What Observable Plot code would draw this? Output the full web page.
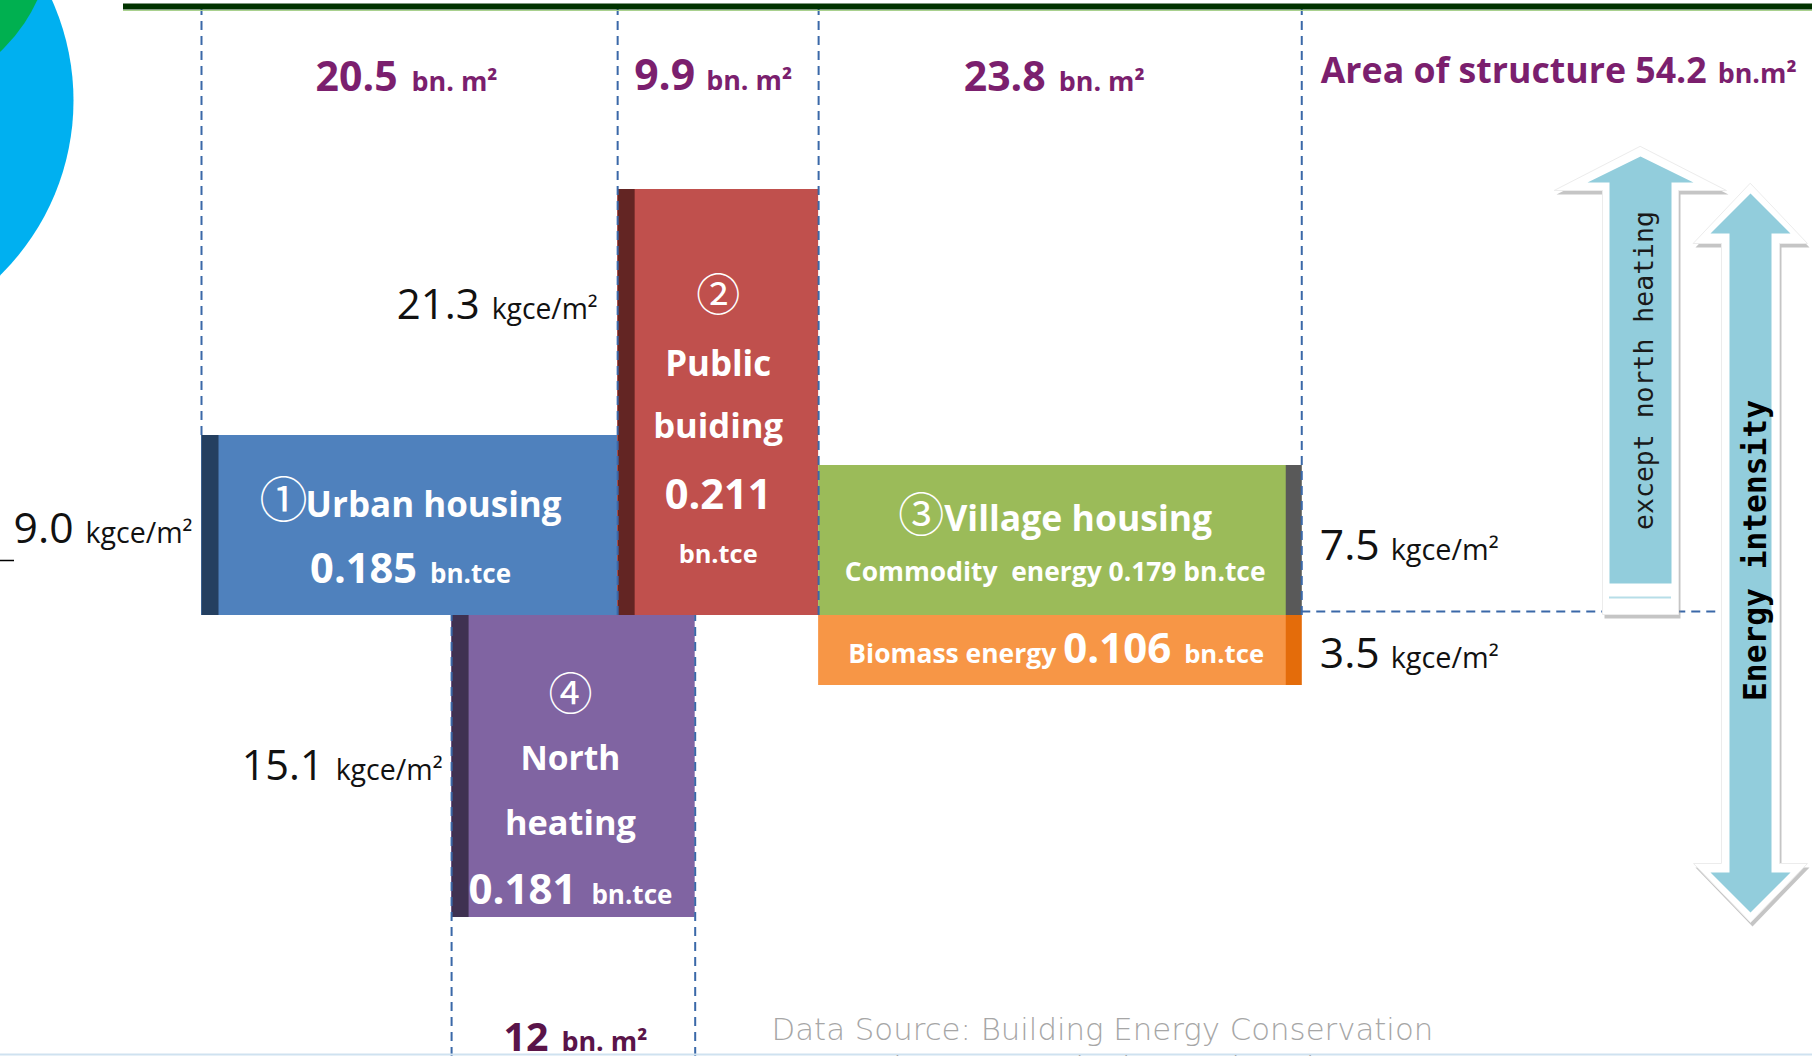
<!DOCTYPE html>
<html>
<head>
<meta charset="utf-8">
<script src="https://cdn.jsdelivr.net/npm/d3@7"></script>
<script src="https://cdn.jsdelivr.net/npm/@observablehq/plot@0.6"></script>
<style>
  html, body { margin: 0; padding: 0; background: #fff; }
  #chart svg { display: block; }
</style>
</head>
<body>
<div id="chart"></div>
<script>
// ---------------- data ----------------
const categories   = ["Urban housing", "Public", "Village housing", "North"];
const categories2  = ["", "buiding", "", "heating"];
const circled      = ["①", "②", "③", "④"];
const areas        = [20.5, 9.9, 23.8, 12];          // bn. m²
const intensities  = [9.0, 21.3, 7.5, 15.1];         // kgce/m²
const energies     = [0.185, 0.211, 0.179, 0.181];   // bn.tce
const biomassIntensity = 3.5;                        // kgce/m²
const biomassEnergy    = 0.106;                      // bn.tce
const northOffset  = 12.32;                          // start of the north-heating column on the area axis
const sourceLines  = ["Data Source: Building Energy Conservation", "Research Center, Tsinghua University"];

// ---------------- layout ----------------
const W = 1812, H = 1056;
const PX_X = 20.3, PX_Y = 20, ORIGIN_X = 201, BASE_Y = 615;
const xDomain = [-ORIGIN_X / PX_X, (W - ORIGIN_X) / PX_X];
const yDomain = [-(H - BASE_Y) / PX_Y, BASE_Y / PX_Y];
const xs = d3.scaleLinear(xDomain, [0, W]);
const ys = d3.scaleLinear(yDomain, [H, 0]);
const P = (px, py) => ({x: xs.invert(px), y: ys.invert(py)});

const total = areas[0] + areas[1] + areas[2];
const xPub = areas[0], xVil = areas[0] + areas[1];
const f1 = d3.format(".1f"), f3 = d3.format(".3f");

const bars = [
  {x1: 0, x2: areas[0], y1: 0, y2: intensities[0], fill: "#4F81BD", edge: "#243F60", side: "left"},
  {x1: xPub, x2: xVil, y1: 0, y2: intensities[1], fill: "#C0504D", edge: "#632523", side: "left"},
  {x1: xVil, x2: total, y1: 0, y2: intensities[2], fill: "#9BBB59", edge: "#595959", side: "right"},
  {x1: xVil, x2: total, y1: -biomassIntensity, y2: 0, fill: "#F79646", edge: "#E46C0A", side: "right"},
  {x1: northOffset, x2: northOffset + areas[3], y1: -intensities[3], y2: 0, fill: "#8064A2", edge: "#3F3151", side: "left"}
];
const cx = b => (xs(b.x1) + xs(b.x2)) / 2;

// ---------------- text composition ----------------
const STYLES = {
  bold: {fontFamily: "'Open Sans', Lato, sans-serif", fontWeight: "bold"},
  reg:  {fontFamily: "'Open Sans', Lato, sans-serif", fontWeight: "normal"},
  cjk:  {fontFamily: "'Noto Sans CJK SC', 'Noto Sans CJK JP', sans-serif", fontWeight: "normal"},
  src:  {fontFamily: "'DejaVu Sans', sans-serif", fontWeight: "200"},
  mono: {fontFamily: "'DejaVu Sans Mono', monospace", fontWeight: "normal"},
  monoB:{fontFamily: "'DejaVu Sans Mono', monospace", fontWeight: "bold"}
};
const ctx = document.createElement("canvas").getContext("2d");
function measure(text, size, s) {
  ctx.font = `${STYLES[s].fontWeight} ${size}px ${STYLES[s].fontFamily}`;
  return ctx.measureText(text).width;
}
function fit(text, w, s) { return 40 * w / measure(text, 40, s); }

const pieces = [];
function label(parts, ax, baseline, align, fill) {
  const ps = parts.map(p => {
    const size = p.size || fit(p.t, p.w, p.s);
    return {...p, size, width: measure(p.t, size, p.s)};
  });
  const tot = d3.sum(ps, p => p.width + (p.g || 0));
  let x = align === "middle" ? ax - tot / 2 : align === "end" ? ax - tot : ax;
  for (const p of ps) {
    x += p.g || 0;
    pieces.push({x: xs.invert(x), y: ys.invert(baseline), text: p.t, size: p.size, s: p.s, fill});
    x += p.width;
  }
}

const PURPLE = "#7B1F6E", PURPLE_DARK = "#5A1449", WHITE = "#ffffff", BLACK = "#111111";
const areaUnit = "bn. m²", kg = "kgce/m²", tce = "bn.tce";

// area labels (top)
label([{t: String(areas[0]), w: 82, s: "bold"}, {t: areaUnit, w: 86, s: "bold", g: 14}], cx(bars[0]) - 3, 90, "middle", PURPLE);
label([{t: String(areas[1]), w: 61, s: "bold"}, {t: areaUnit, w: 86, s: "bold", g: 11}], cx(bars[1]) - 5, 89, "middle", PURPLE);
label([{t: String(areas[2]), w: 82, s: "bold"}, {t: areaUnit, w: 86, s: "bold", g: 13}], cx(bars[2]) - 6, 90, "middle", PURPLE);
label([{t: `Area of structure ${f1(total)}`, w: 386, s: "bold"}, {t: "bn.m²", w: 79, s: "bold", g: 11}], xs(total) + 19, 82, "start", PURPLE);
label([{t: String(areas[3]), w: 45, s: "bold"}, {t: areaUnit, w: 86, s: "bold", g: 13}], cx(bars[4]) + 2, 1050, "middle", PURPLE_DARK);

// intensity labels
label([{t: f1(intensities[1]), w: 83, s: "reg"}, {t: kg, w: 106, s: "reg", g: 12}], xs(xPub) - 20, 318, "end", BLACK);
label([{t: f1(intensities[0]), w: 60, s: "reg"}, {t: kg, w: 107, s: "reg", g: 12}], xs(0) - 9, 542, "end", BLACK);
label([{t: f1(intensities[3]), w: 82, s: "reg"}, {t: kg, w: 107, s: "reg", g: 12}], xs(northOffset) - 9, 779, "end", BLACK);
label([{t: f1(intensities[2]), w: 60, s: "reg"}, {t: kg, w: 108, s: "reg", g: 11}], xs(total) + 18, 559, "start", BLACK);
label([{t: f1(biomassIntensity), w: 60, s: "reg"}, {t: kg, w: 108, s: "reg", g: 11}], xs(total) + 18, 667, "start", BLACK);

// urban housing
label([{t: circled[0], size: 48, s: "cjk"}, {t: categories[0], w: 256, s: "bold", g: -2}], cx(bars[0]) + 1, 516, "middle", WHITE);
label([{t: f3(energies[0]), w: 107, s: "bold"}, {t: tce, w: 81, s: "bold", g: 13}], cx(bars[0]) + 1, 582, "middle", WHITE);
// public building
label([{t: circled[1], size: 44, s: "cjk"}], cx(bars[1]), 310, "middle", WHITE);
label([{t: categories[1], w: 106, s: "bold"}], cx(bars[1]), 375, "middle", WHITE);
label([{t: categories2[1], w: 130, s: "bold"}], cx(bars[1]), 437, "middle", WHITE);
label([{t: f3(energies[1]), w: 107, s: "bold"}], cx(bars[1]), 508, "middle", WHITE);
label([{t: tce, w: 79, s: "bold"}], cx(bars[1]), 562, "middle", WHITE);
// village housing
label([{t: circled[2], size: 46, s: "cjk"}, {t: categories[2], w: 268, s: "bold", g: 0}], cx(bars[2]) - 5, 530, "middle", WHITE);
label([{t: `Commodity  energy ${f3(energies[2])} ${tce}`, w: 421, s: "bold"}], cx(bars[2]) - 5, 580, "middle", WHITE);
label([{t: "Biomass energy", w: 208, s: "bold"}, {t: f3(biomassEnergy), w: 108, s: "bold", g: 7}, {t: tce, w: 80, s: "bold", g: 13}], cx(bars[3]) - 4, 662, "middle", WHITE);
// north heating
label([{t: circled[3], size: 44, s: "cjk"}], cx(bars[4]) - 3, 709, "middle", WHITE);
label([{t: categories[3], w: 100, s: "bold"}], cx(bars[4]) - 3, 769, "middle", WHITE);
label([{t: categories2[3], w: 131, s: "bold"}], cx(bars[4]) - 3, 834, "middle", WHITE);
label([{t: f3(energies[3]), w: 108, s: "bold"}, {t: tce, w: 81, s: "bold", g: 15}], cx(bars[4]) - 3, 903, "middle", WHITE);

// data source
const srcSize = fit(sourceLines[0], 662, "src");
label([{t: sourceLines[0], size: srcSize, s: "src"}], 771, 1039, "start", "#A6A6A6");
label([{t: sourceLines[1], size: srcSize, s: "src"}], 771, 1077, "start", "#A6A6A6");

const textMarks = Object.keys(STYLES).map(s => Plot.text(pieces.filter(d => d.s === s), {
  x: "x", y: "y", text: "text", fontSize: d => d.size, fill: d => d.fill,
  textAnchor: "start", lineAnchor: "bottom", ...STYLES[s]
}));

// ---------------- arrows ----------------
function upArrow(c, tip, sh, head, shaft, bottom) {
  return [P(c, tip), P(c + head, sh), P(c + shaft, sh), P(c + shaft, bottom),
          P(c - shaft, bottom), P(c - shaft, sh), P(c - head, sh)];
}
function dblArrow(c, tip1, sh1, head, shaft, sh2, tip2) {
  return [P(c, tip1), P(c + head, sh1), P(c + shaft, sh1), P(c + shaft, sh2), P(c + head, sh2),
          P(c, tip2), P(c - head, sh2), P(c - shaft, sh2), P(c - shaft, sh1), P(c - head, sh1)];
}
const baselinePx = ys(0);
const a1Outer = upArrow(1640, 146, 190, 86, 38, baselinePx - 1);
const a1Inner = upArrow(1640, 156, 182, 53, 31, 583);
const a2Outer = dblArrow(1750, 183, 243, 57, 29, 863, 922);
const a2Inner = dblArrow(1750, 193, 233, 40, 21, 872, 912);
const poly = (pts, opts) => Plot.line(pts, {x: "x", y: "y", curve: "linear-closed", ...opts});
const ARROW = "#92CDDC";

const monoExcept = "except north heating", monoEnergy = "Energy intensity";
const arrowText = [
  Plot.text([{...P(1652, 370), t: monoExcept}], {x: "x", y: "y", text: "t", rotate: -90, textAnchor: "middle", lineAnchor: "bottom",
    fontSize: fit(monoExcept, 319, "mono"), fill: "#1a1a1a", ...STYLES.mono}),
  Plot.text([{...P(1765, 550), t: monoEnergy}], {x: "x", y: "y", text: "t", rotate: -90, textAnchor: "middle", lineAnchor: "bottom",
    fontSize: fit(monoEnergy, 301, "monoB"), fill: "#000", ...STYLES.monoB})
];

// ---------------- dashed guides ----------------
const dash = {stroke: "#3A68A8", strokeWidth: 2, strokeDasharray: "9,6"};
const vDashes = [
  {x: 0, y1: intensities[0], y2: yDomain[1]},
  {x: xPub, y1: 0, y2: yDomain[1]},
  {x: xVil, y1: 0, y2: yDomain[1]},
  {x: total, y1: 0, y2: yDomain[1]},
  {x: northOffset, y1: yDomain[0], y2: 0},
  {x: northOffset + areas[3], y1: yDomain[0], y2: 0}
];

const chart = Plot.plot({
  width: W, height: H, margin: 0,
  x: {domain: xDomain, axis: null},
  y: {domain: yDomain, axis: null},
  style: {background: "#fff", overflow: "hidden"},
  marks: [
    Plot.dot([P(-172, 100)], {x: "x", y: "y", r: 245, fill: "#00B0F0", stroke: "none"}),
    Plot.dot([P(-115, -70)], {x: "x", y: "y", r: 167, fill: "#00B050", stroke: "none"}),
    Plot.rect(bars, {x1: "x1", x2: "x2", y1: "y1", y2: "y2", fill: "fill"}),
    Plot.ruleX(bars.filter(b => b.side === "left"), {x: "x1", y1: "y1", y2: "y2", stroke: "edge", strokeWidth: 17, dx: 8.5}),
    Plot.ruleX(bars.filter(b => b.side === "right"), {x: "x2", y1: "y1", y2: "y2", stroke: "edge", strokeWidth: 16, dx: -8}),
    Plot.ruleX(vDashes, {x: "x", y1: "y1", y2: "y2", ...dash}),
    Plot.ruleY([{y: 0}], {y: "y", x1: total, x2: xs.invert(1718), dy: -4, ...dash}),
    Plot.ruleY([P(0, 6)], {y: "y", x1: xs.invert(123), x2: xDomain[1], stroke: "#013300", strokeWidth: 6}),
    Plot.ruleY([P(0, 10)], {y: "y", x1: xs.invert(123), x2: xDomain[1], stroke: "#a9d18e", strokeWidth: 1}),
    Plot.ruleY([P(0, 560)], {y: "y", x1: xDomain[0], x2: xs.invert(14), stroke: "#000", strokeWidth: 1.5}),
    Plot.ruleY([P(0, 1054)], {y: "y", x1: xDomain[0], x2: xDomain[1], stroke: "#cfe2f0", strokeWidth: 2}),
    // arrows
    poly(a1Outer, {fill: "#8c8c8c", fillOpacity: 0.5, stroke: "none", dx: 2, dy: 4}),
    poly(a1Outer, {fill: "#fff", stroke: "#ececec", strokeWidth: 1}),
    poly(a1Inner, {fill: ARROW, stroke: "none"}),
    Plot.ruleY([P(0, 597)], {y: "y", x1: xs.invert(1609), x2: xs.invert(1671), stroke: "#B7DEE8", strokeWidth: 2}),
    poly(a2Outer, {fill: "#8c8c8c", fillOpacity: 0.5, stroke: "none", dx: 2, dy: 4}),
    poly(a2Outer, {fill: "#fff", stroke: "#ececec", strokeWidth: 1}),
    poly(a2Inner, {fill: ARROW, stroke: "none"}),
    ...textMarks,
    ...arrowText
  ]
});
document.getElementById("chart").appendChild(chart);
</script>
</body>
</html>
